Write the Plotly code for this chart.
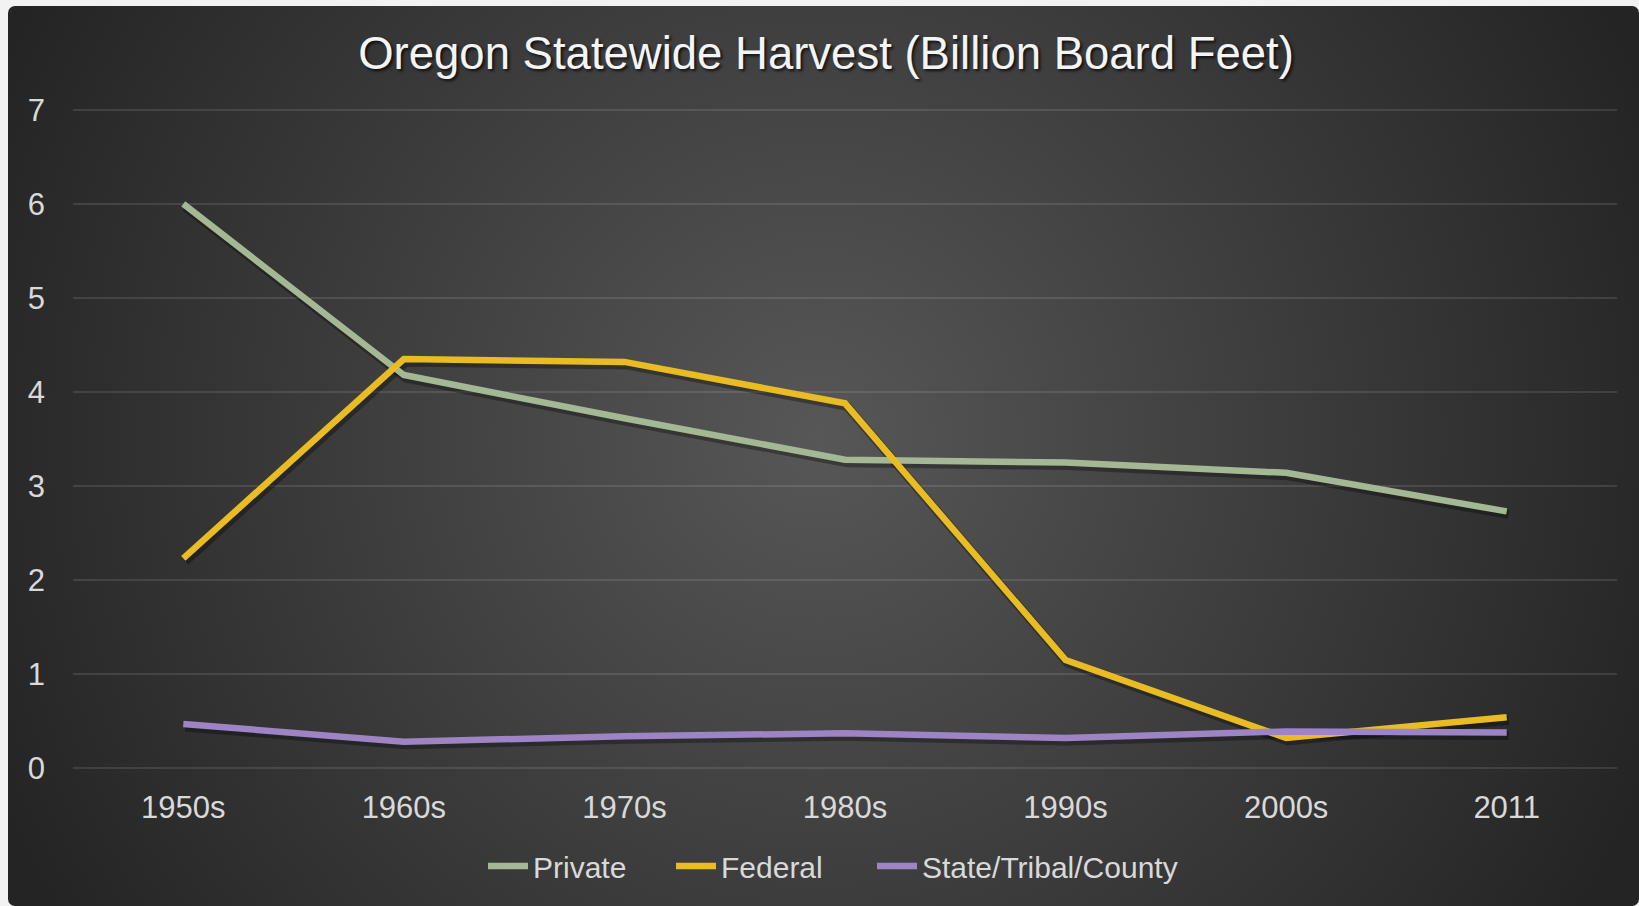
import base64
import plotly.graph_objects as go

# Harvest by ownership, billion board feet
categories = ["1950s", "1960s", "1970s", "1980s", "1990s", "2000s", "2011"]
private = [6.0, 4.18, 3.72, 3.28, 3.25, 3.14, 2.73]
federal = [2.23, 4.35, 4.32, 3.88, 1.15, 0.32, 0.54]
state_tribal_county = [0.47, 0.28, 0.34, 0.37, 0.32, 0.39, 0.38]
y_ticks = [0, 1, 2, 3, 4, 5, 6, 7]

# name, values, colour, legend slot, left edge of its legend entry (px)
series = [
    ("Private", private, "#A4B893", "legend", 483),
    ("Federal", federal, "#E8BC22", "legend2", 671),
    ("State/Tribal/County", state_tribal_county, "#9D84C4", "legend3", 872),
]

FONT = "Liberation Sans, Arial, sans-serif"
W, H = 1639, 906
L, R, T, B = 73, 22, 108, 136
PW, PH = W - L - R, H - T - B
Y_PAD = 0.02          # keeps the 0 and 7 gridlines just inside the plot area
Y_RANGE = [0 - Y_PAD, 7 + Y_PAD]
LEGEND_Y_PX = 866

# dark radial-gradient panel behind the chart
panel_w, panel_h = W - 8, H - 6
svg = (
    f'<svg xmlns="http://www.w3.org/2000/svg" width="{panel_w}" height="{panel_h}" '
    f'viewBox="0 0 {panel_w} {panel_h}" preserveAspectRatio="none">'
    '<defs><radialGradient id="g" gradientUnits="userSpaceOnUse" cx="810" cy="430" r="900">'
    '<stop offset="0" stop-color="#575757"/><stop offset="1" stop-color="#242424"/>'
    '</radialGradient></defs>'
    f'<rect x="0" y="0" width="{panel_w}" height="{panel_h}" rx="7" ry="7" fill="url(#g)"/></svg>'
)
svg_uri = "data:image/svg+xml;base64," + base64.b64encode(svg.encode()).decode()

fig = go.Figure()

# soft drop shadows on a hidden pair of axes, nudged down/right by a few pixels
shift_x_px, shift_y_px = 2.0, 3.0
cat_px = PW / 7.0
unit_px = PH / (Y_RANGE[1] - Y_RANGE[0])
for name, vals, color, leg, _ in series:
    fig.add_trace(go.Scatter(
        x=categories, y=vals, mode="lines", showlegend=False, hoverinfo="skip",
        line=dict(color="rgba(0,0,0,0.32)", width=9),
        xaxis="x", yaxis="y",
    ))

for name, vals, color, leg, _ in series:
    fig.add_trace(go.Scatter(
        x=categories, y=vals, mode="lines", name=name, legend=leg,
        line=dict(color=color, width=6.5),
        xaxis="x2", yaxis="y2",
    ))

legend_style = dict(
    orientation="h", xanchor="left",
    y=(H - B - LEGEND_Y_PX) / PH, yanchor="middle",
    bgcolor="rgba(0,0,0,0)",
    font=dict(family=FONT, size=30, color="#D9D9D9"),
    itemwidth=40,
)
legends = {leg: dict(legend_style, x=(left - L) / PW) for _, _, _, leg, left in series}

fig.update_layout(
    width=W, height=H,
    margin=dict(l=L, r=R, t=T, b=B, autoexpand=False),
    paper_bgcolor="#F2F2F2",
    plot_bgcolor="rgba(0,0,0,0)",
    font=dict(family=FONT, color="#D9D9D9", size=30),
    title=dict(
        text="Oregon Statewide Harvest (Billion Board Feet)",
        x=0.504, xref="container", xanchor="center",
        y=1 - 53 / H, yref="container", yanchor="middle",
        font=dict(family=FONT, size=45.5, color="#F4F4F4",
                  shadow="2px 2px 3px rgba(0,0,0,0.75)"),
    ),
    images=[dict(
        source=svg_uri, xref="paper", yref="paper",
        x=(8 - L) / PW, y=(H - B - 6) / PH,
        sizex=panel_w / PW, sizey=panel_h / PH,
        xanchor="left", yanchor="top", sizing="stretch", layer="below",
    )],
    xaxis=dict(
        type="category", categoryorder="array", categoryarray=categories,
        range=[-0.5 - shift_x_px / cat_px, 6.5 - shift_x_px / cat_px],
        visible=False, fixedrange=True,
    ),
    yaxis=dict(
        range=[Y_RANGE[0] + shift_y_px / unit_px, Y_RANGE[1] + shift_y_px / unit_px],
        visible=False, fixedrange=True,
    ),
    xaxis2=dict(
        type="category", categoryorder="array", categoryarray=categories,
        range=[-0.5, 6.5], overlaying="x", side="bottom",
        showgrid=False, zeroline=False, showline=False, ticks="",
        ticklabelstandoff=16,
        tickfont=dict(family=FONT, size=31, color="#D9D9D9"),
    ),
    yaxis2=dict(
        range=Y_RANGE, overlaying="y", side="left",
        tickvals=y_ticks, ticktext=[str(v) for v in y_ticks],
        showgrid=True, gridcolor="rgba(255,255,255,0.11)", gridwidth=1.5,
        zeroline=False, showline=False, ticks="",
        ticklabelstandoff=27,
        tickfont=dict(family=FONT, size=31, color="#D9D9D9"),
    ),
    showlegend=True,
    hovermode=False,
    **legends,
)

fig.write_html("out.html")
